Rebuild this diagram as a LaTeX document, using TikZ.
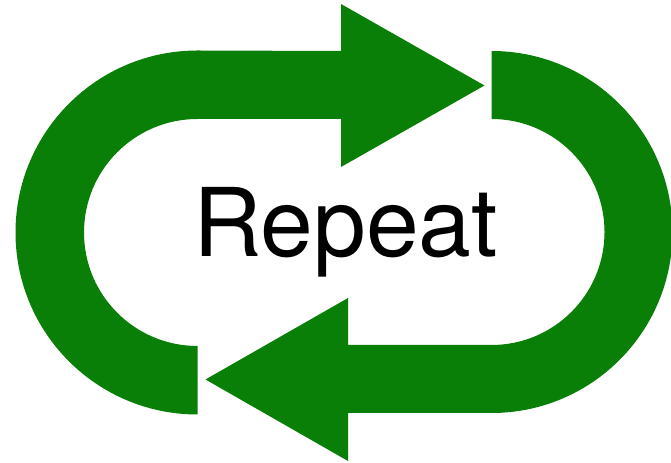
\documentclass[tikz,border=0pt]{standalone}
\usepackage{fontspec}
\setmainfont{TeX Gyre Heros}
\definecolor{loopgreen}{RGB}{10,127,7}

\begin{document}
\begin{tikzpicture}[x=0.02cm, y=0.02cm, band/.style={fill=loopgreen}]
	\useasboundingbox (0,0) rectangle (671,462);
	% y values: 462 minus the height in the image
	\coordinate (T2) at (341,411);
	\coordinate (T3) at (341,458);
	\coordinate (T4) at (484.5,376.5);
	\coordinate (T5) at (341,295);
	\coordinate (T6) at (341,343);
	\coordinate (T7) at (197.5,343);
	\coordinate (B1) at (491.5,411);
	\coordinate (B4) at (348,49);
	\coordinate (B5) at (348,1);
	\coordinate (B6) at (205.5,82.5);
	\coordinate (B7) at (348,164);
	\coordinate (B8) at (348,117);
	\coordinate (B9) at (491.5,117);
	\fill[band] (T7) arc (90:270:113.5) -- ++(0,-68.5) arc (270:90:182) -- (T2)--(T3)--(T4)--(T5)--(T6)--cycle;
	\fill[band] (B1) arc (90:-90:181) -- (B4)--(B5)--(B6)--(B7)--(B8)--(B9) arc (-90:90:113) -- cycle;
	\node[font=\fontsize{54}{60}\selectfont, inner sep=0pt, anchor=base] (repeat) at (345.5,205) {Repeat};
\end{tikzpicture}
\end{document}
